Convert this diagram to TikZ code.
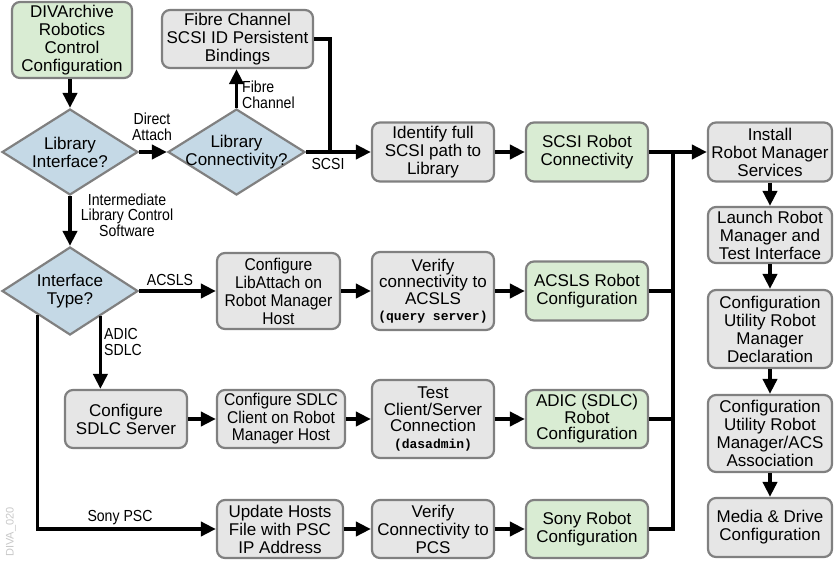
\documentclass[tikz,border=0pt]{standalone}
\usepackage{fontspec}
\setmainfont{Liberation Sans}
\newfontfamily\narrowfont{Liberation Sans}[FakeStretch=0.88]
\newfontfamily\condfont{Liberation Sans}[FakeStretch=0.92]
\newfontfamily\codefont{Liberation Mono}
\usetikzlibrary{shapes.geometric,arrows.meta,calc}
\definecolor{boxline}{RGB}{128,128,128}
\definecolor{boxgrey}{RGB}{230,230,230}
\definecolor{boxgreen}{RGB}{217,236,211}
\definecolor{diablue}{RGB}{197,217,230}
\definecolor{tagGrey}{RGB}{200,200,200}
\newcommand{\boxfont}{\fontsize{17}{18}\selectfont}
\newcommand{\tightfont}{\fontsize{17}{16.5}\selectfont}
\newcommand{\labfont}{\narrowfont\fontsize{16}{15.5}\selectfont}
\newcommand{\codetext}[1]{{\codefont\bfseries\fontsize{13}{15}\selectfont #1}}
\begin{document}
\begin{tikzpicture}[x=1pt,y=-1pt,
  box/.style={draw=boxline, line width=2.2pt, rounded corners=8pt, fill=boxgrey,
    align=center, inner sep=0pt, font=\boxfont},
  gbox/.style={box, fill=boxgreen},
  dia/.style={diamond, draw=boxline, fill=diablue, line width=2.2pt, inner sep=0pt,
    minimum width=136pt, minimum height=86pt},
  diatext/.style={align=center, inner sep=0pt, font=\boxfont},
  arr/.style={line width=3.8pt, -{Triangle[length=15pt,width=14pt]}},
  ln/.style={line width=3.8pt},
  lab/.style={font=\labfont, inner sep=0pt}
]
\useasboundingbox (0,0) rectangle (834,560);

% column 1 top
\node[gbox, minimum width=120pt, minimum height=76pt] (divarch) at (72,40) {DIVArchive\\Robotics\\Control\\Configuration};
\node[box, minimum width=151pt, minimum height=58pt] (fibre) at (237.5,39) {Fibre Channel\\SCSI ID Persistent\\Bindings};
\node[dia] (libif) at (70,152) {};
\node[diatext] (libiftxt) at (70,152) {Library\\Interface?};
\node[dia, minimum width=137pt] (libconn) at (236.5,152) {};
\node[diatext] (libconntxt) at (236.5,152) {Library\\Connectivity?};
\node[dia, minimum height=88pt] (iftype) at (70,291) {};
\node[diatext] (iftypetxt) at (70,291) {Interface\\Type?};

% row SCSI
\node[box, minimum width=122pt, minimum height=59pt] (identify) at (433,152) {Identify full\\SCSI path to\\Library};
\node[gbox, minimum width=122pt, minimum height=59pt] (scsirobot) at (587,152) {SCSI Robot\\Connectivity};

% row ACSLS
\node[box, minimum width=123pt, minimum height=76pt, font=\condfont\boxfont] (libattach) at (278.5,291) {Configure\\LibAttach on\\Robot Manager\\Host};
\node[box, minimum width=122pt, minimum height=78pt, font=\tightfont] (verifyacsls) at (433,291) {Verify\\connectivity to\\ACSLS\\\codetext{(query server)}};
\node[gbox, minimum width=122pt, minimum height=59pt] (acslsrobot) at (587,291) {ACSLS Robot\\Configuration};

% row ADIC
\node[box, minimum width=122pt, minimum height=58pt] (sdlcsrv) at (126,419) {Configure\\SDLC Server};
\node[box, minimum width=128pt, minimum height=58pt, font=\condfont\fontsize{17}{17.5}\selectfont] (sdlcclient) at (281,419) {Configure SDLC\\Client on Robot\\Manager Host};
\node[box, minimum width=122pt, minimum height=78pt, font=\tightfont] (testcs) at (433,419) {Test\\Client/Server\\Connection\\\codetext{(dasadmin)}};
\node[gbox, minimum width=122pt, minimum height=58pt, font=\tightfont] (adicrobot) at (587,419) {ADIC (SDLC)\\Robot\\Configuration};

% row Sony
\node[box, minimum width=126pt, minimum height=58pt] (update) at (280,529) {Update Hosts\\File with PSC\\IP Address};
\node[box, minimum width=122pt, minimum height=58pt] (verifypcs) at (433,529) {Verify\\Connectivity to\\PCS};
\node[gbox, minimum width=122pt, minimum height=58pt] (sonyrobot) at (587,529) {Sony Robot\\Configuration};

% right column
\node[box, minimum width=124pt, minimum height=59pt] (install) at (770,152) {Install\\Robot Manager\\Services};
\node[box, minimum width=124pt, minimum height=56pt] (launch) at (770,235) {Launch Robot\\Manager and\\Test Interface};
\node[box, minimum width=124pt, minimum height=78pt] (decl) at (770,329) {Configuration\\Utility Robot\\Manager\\Declaration};
\node[box, minimum width=124pt, minimum height=77pt] (acsassoc) at (770,433.5) {Configuration\\Utility Robot\\Manager/ACS\\Association};
\node[box, minimum width=124pt, minimum height=59pt] (media) at (770,527.5) {Media \& Drive\\Configuration};

% coordinates
\coordinate (scsijoin) at (330,152);
\coordinate (bustop) at (673,152);
\coordinate (adicstart) at ($(iftype.south)!0.44!(iftype.east)$);
\coordinate (sonystart) at ($(iftype.south)!0.47!(iftype.west)$);

% connectors
\draw[arr] (libif.north |- divarch.south) -- (libif.north);
\draw[arr] (libif.east) -- (libconn.west);
\draw[arr] (libconn.north) -- (libconn.north |- fibre.south);
\draw[arr] (libconn.east) -- (identify.west);
\draw[ln] (fibre.east) -| (scsijoin);
\draw[arr] (identify) -- (scsirobot);
\draw[arr] (scsirobot.east) -- (install.west);
\draw[ln] (sonyrobot.east) -| (bustop);
\draw[ln] (acslsrobot.east) -- (acslsrobot.east -| bustop);
\draw[ln] (adicrobot.east) -- (adicrobot.east -| bustop);
\draw[arr] (install) -- (launch);
\draw[arr] (launch) -- (decl);
\draw[arr] (decl) -- (acsassoc);
\draw[arr] (acsassoc) -- (media);
\draw[arr] (libif.south) -- (iftype.north);
\draw[arr] (iftype.east) -- (libattach.west);
\draw[arr] (libattach) -- (verifyacsls);
\draw[arr] (verifyacsls) -- (acslsrobot);
\draw[arr] (adicstart) -- (adicstart |- sdlcsrv.north);
\draw[arr] (sdlcsrv) -- (sdlcclient);
\draw[arr] (sdlcclient) -- (testcs);
\draw[arr] (testcs) -- (adicrobot);
\draw[arr] (sonystart) |- (update.west);
\draw[arr] (update) -- (verifypcs);
\draw[arr] (verifypcs) -- (sonyrobot);

% labels
\node[lab, align=center] (lDirect) at (152,127) {Direct\\Attach};
\node[lab, align=left, anchor=west] (lFibre) at (242,95) {Fibre\\Channel};
\node[lab] (lSCSI) at (328,164) {SCSI};
\node[lab, align=center] (lInter) at (127,215) {Intermediate\\Library Control\\Software};
\node[lab] (lACSLS) at (170,280) {ACSLS};
\node[lab, align=left, anchor=west] (lADIC) at (104,342) {ADIC\\SDLC};
\node[lab] (lSony) at (120,518) {Sony PSC};
\node[font=\fontsize{11}{11}\selectfont, text=tagGrey, rotate=90, inner sep=0pt] (tag) at (11,532) {DIVA\_020};
\end{tikzpicture}
\end{document}
